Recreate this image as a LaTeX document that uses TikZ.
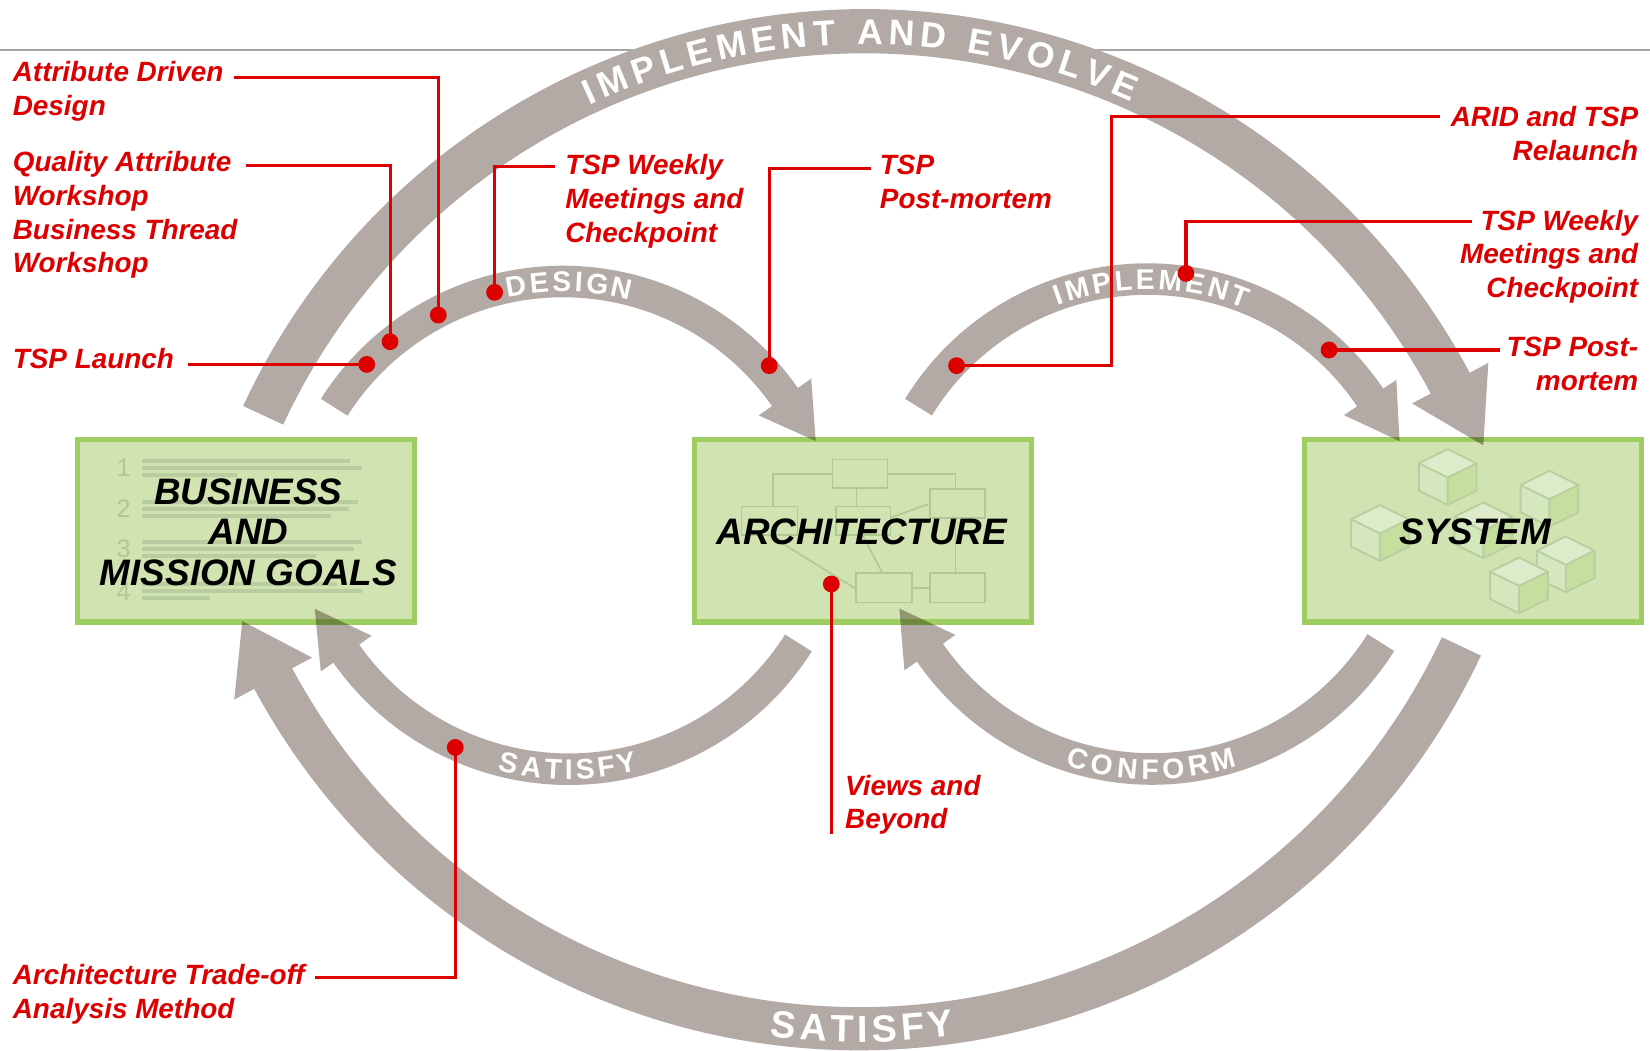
\documentclass[tikz,border=0pt]{standalone}
\usepackage{fontspec}
\setmainfont{Liberation Sans}
\usetikzlibrary{calc,decorations.text}
\definecolor{bandgrey}{RGB}{179,170,165}
\definecolor{boxfill}{RGB}{208,227,177}
\definecolor{boxline}{RGB}{158,205,97}
\definecolor{deco}{RGB}{176,201,148}
\definecolor{decoline}{RGB}{185,206,160}
\definecolor{calred}{RGB}{220,0,0}
\definecolor{rulegrey}{RGB}{165,165,165}
\definecolor{cubetop}{RGB}{222,235,203}
\definecolor{cubeleft}{RGB}{213,231,188}
\definecolor{cuberight}{RGB}{197,223,158}
\definecolor{cubeedge}{RGB}{184,207,160}

\newcommand\afbig{\fontsize{34}{34}\selectfont\bfseries}
\newcommand\afsat{\fontsize{36}{36}\selectfont\bfseries}
\newcommand\afmid{\fontsize{27}{27}\selectfont\bfseries}
\newcommand\calfont{\fontsize{26.5}{32}\selectfont\bfseries\itshape}
\newcommand\boxfont{\fontsize{35}{38.5}\selectfont\bfseries\itshape}

% cx, cy, r, w, a0 (tail), a1 (head base), half head width, head length, tip turn
\newcommand\bandarrow[9]{%
  \pgfmathsetmacro\bRo{#3+#4/2}\pgfmathsetmacro\bRi{#3-#4/2}%
  \pgfmathsetmacro\bHo{#3+#7}\pgfmathsetmacro\bHi{#3-#7}%
  \pgfmathsetmacro\bTa{#6+#9}%
  \coordinate (bc) at (#1,#2);
  \fill[bandstyle] (bc) ++(#5:\bRo pt) arc[start angle=#5,end angle=#6,radius=\bRo pt]
    -- ($(bc)+(#6:\bHo pt)$) -- ($(bc)+(#6:#3pt)+(\bTa:#8pt)$) -- ($(bc)+(#6:\bHi pt)$)
    -- ($(bc)+(#6:\bRi pt)$) arc[start angle=#6,end angle=#5,radius=\bRi pt] -- cycle;}

% cx, cy, r, a0, a1, font, raise, text
\newcommand\arctext[8]{%
  \path[decorate,decoration={text along path,text={|#6|#8},text align={fit to path},
     text color=white,raise=#7pt}]
     ($(#1,#2)+(#4:#3pt)$) arc[start angle=#4,end angle=#5,radius=#3pt];}

\newcommand\sketchcube[2]{%
  \begin{scope}[shift={(#1,#2)}]
    \fill[cubetop] (0,13.5) -- (27.4,0) -- (0,-13.5) -- (-27.4,0) -- cycle;
    \fill[cubeleft] (-27.4,0) -- (0,-13.5) -- (0,-39.5) -- (-27.4,-26) -- cycle;
    \fill[cuberight] (0,-13.5) -- (27.4,0) -- (27.4,-26) -- (0,-39.5) -- cycle;
    \draw[cubeedge,line width=1.8pt,line join=round]
      (0,13.5) -- (27.4,0) -- (27.4,-26) -- (0,-39.5) -- (-27.4,-26) -- (-27.4,0) -- cycle
      (-27.4,0) -- (0,-13.5) -- (27.4,0) (0,-13.5) -- (0,-39.5);
  \end{scope}}

\tikzset{
  boxstyle/.style={draw=boxline,fill=boxfill,line width=4.8pt,minimum width=320.2pt,
     minimum height=173.2pt,inner sep=0pt},
  boxlabel/.style={font=\boxfont,align=center,inner sep=0pt,text=black},
  numstyle/.style={font=\fontsize{24}{24}\selectfont,text=deco,inner sep=0pt},
  bizline/.style={draw=decoline,line width=3.8pt},
  archline/.style={draw=deco,line width=1.5pt},
  callout/.style={draw=calred,line width=3pt},
  cdot/.style={circle,fill=calred,inner sep=0pt,minimum size=16pt},
  ctext/.style={text=calred,font=\calfont,inner sep=0pt,align=left,anchor=base west},
  ctextr/.style={text=calred,font=\calfont,inner sep=0pt,align=right,anchor=base east},
  bandstyle/.style={fill=bandgrey}
}

\begin{document}
\begin{tikzpicture}[x=1pt,y=1pt]
\useasboundingbox (0,0) rectangle (1568,998);

% horizontal rule
\draw[rulegrey,line width=2pt] (0,950.5) -- (1568,950.5);

% white underlay of the big top arc (hides the rule)
\begin{scope}
  \tikzset{bandstyle/.style={fill=white}}
  \bandarrow{821.7}{338}{630.2}{42}{155.1}{28}{41}{67}{-90}
\end{scope}

% boxes
\node[boxstyle] (bizbox) at (234,493.5) {};
\node[boxstyle] (archbox) at (820,493.5) {};
\node[boxstyle] (sysbox) at (1400,493.5) {};

% business box decoration
\node[numstyle] (num1) at (117.5,553) {1};
\node[numstyle] (num2) at (117.5,514.5) {2};
\node[numstyle] (num3) at (117.5,476) {3};
\node[numstyle] (num4) at (117.5,435.4) {4};
\foreach \xe/\yy in {332.5/559.6,344/553,225/546.5,340/521,332/514.2,315/507.4,
                     344/483,336/476.2,300/469.4,320/443,344/436.8,200/430}
  \draw[bizline] (135,\yy) -- (\xe,\yy);

% architecture box decoration
\draw[archline] (791,534) rectangle (843.2,561.5);
\draw[archline] (883.8,506) rectangle (936,533.3);
\draw[archline] (704.8,489.6) rectangle (758,516.5);
\draw[archline] (794.2,489.6) rectangle (846.4,516.5);
\draw[archline] (813.2,425.3) rectangle (866.4,453.2);
\draw[archline] (883.8,425.3) rectangle (936,453.2);
\draw[archline] (791,547.3) -- (734.8,547.3) -- (734.8,516.5);
\draw[archline] (843.2,547.3) -- (908.2,547.3) -- (908.2,533.3);
\draw[archline] (814,534) -- (814,516.5);
\draw[archline] (846.4,506) -- (883.8,519.5);
\draw[archline] (730.5,489.6) -- (813.2,438.5);
\draw[archline] (819.5,489.6) -- (838.8,453.2);
\draw[archline] (908.2,506) -- (908.2,453.2);
\draw[archline] (866.4,439.4) -- (883.8,439.4);

% system box decoration
\sketchcube{1375.7}{557.7}
\sketchcube{1472.4}{537.1}
\sketchcube{1311.4}{504.5}
\sketchcube{1409.6}{507}
\sketchcube{1487.9}{474.7}
\sketchcube{1443.5}{454.7}

% box labels
\node[boxlabel] (bizlabel) at (236,492.5) {BUSINESS\\AND\\MISSION GOALS};
\node[boxlabel] (archlabel) at (819,493) {ARCHITECTURE};
\node[boxlabel] (syslabel) at (1402,493) {SYSTEM};

% grey band arrows
\begin{scope}[blend mode=multiply]
  \bandarrow{821.7}{338}{630.2}{42}{155.1}{28}{41}{67}{-90}
  \bandarrow{816.5}{653}{632.5}{41}{334.8}{208.3}{42}{62}{-90}
  \bandarrow{535}{473}{257.5}{30}{147.6}{35}{30.5}{51}{-90}
  \bandarrow{1090.4}{477.5}{255.3}{30}{148.45}{34}{30}{50}{-90}
  \bandarrow{540.5}{525.5}{258.5}{30}{327.6}{215.1}{29.5}{52}{-90}
  \bandarrow{1094.8}{524}{256.8}{30}{327.85}{214.7}{29.5}{51}{-90}
\end{scope}

% texts on the bands
\arctext{821.7}{338}{630.2}{115}{65.8}{\afbig}{-12.2}{IMPLEMENT AND EVOLVE}
\arctext{816.5}{653}{632.5}{262.4}{278.1}{\afsat}{-12.9}{SATISFY}
\arctext{535}{473}{257.5}{102.2}{75.2}{\afmid}{-9.7}{DESIGN}
\arctext{1090.4}{477.5}{255.3}{110.3}{67.9}{\afmid}{-9.7}{IMPLEMENT}
\arctext{540.5}{525.5}{258.5}{255.4}{284.3}{\afmid}{-9.7}{SATISFY}
\arctext{1094.8}{524}{256.8}{252}{287.8}{\afmid}{-9.7}{CONFORM}

% callout texts (anchor = baseline of the last line)
\node[ctext] (tADD) at (12,888.4) {Attribute Driven\\Design};
\node[ctext] (tQAW) at (12,738.8) {Quality Attribute\\Workshop\\Business Thread\\Workshop};
\node[ctext] (tLaunch) at (12,648) {TSP Launch};
\node[ctext] (tWeekA) at (537,767.7) {TSP Weekly\\Meetings and\\Checkpoint};
\node[ctext] (tPostA) at (836,799.7) {TSP\\Post-mortem};
\node[ctextr] (tARID) at (1557,845.6) {ARID and TSP\\Relaunch};
\node[ctextr] (tWeekB) at (1557,715.4) {TSP Weekly\\Meetings and\\Checkpoint};
\node[ctextr] (tPostB) at (1557,627) {TSP Post-\\mortem};
\node[ctext] (tViews) at (803,210.5) {Views and\\Beyond};
\node[ctext] (tATAM) at (12,30.4) {Architecture Trade-off\\Analysis Method};

% callout start points and dots
\coordinate (sADD) at (222,924.5);
\coordinate (sQAW) at (233.5,840.5);
\coordinate (sLaunch) at (178.5,651.7);
\coordinate (sWeekA) at (527.5,839.6);
\coordinate (sPostA) at (828,838);
\coordinate (sARID) at (1368,887.1);
\coordinate (bARID) at (1056.6,650.5);
\coordinate (sWeekB) at (1399,787.3);
\coordinate (sPostB) at (1425.5,665.4);
\coordinate (sViews) at (790,205.6);
\coordinate (sATAM) at (299,69.3);

\node[cdot] (dADD) at (416.5,698.6) {};
\node[cdot] (dQAW) at (370.7,673.3) {};
\node[cdot] (dLaunch) at (348.5,651.7) {};
\node[cdot] (dWeekA) at (470,720.2) {};
\node[cdot] (dPostA) at (731,650.5) {};
\node[cdot] (dARID) at (909,650.5) {};
\node[cdot] (dWeekB) at (1127,738.2) {};
\node[cdot] (dPostB) at (1263,665.4) {};
\node[cdot] (dViews) at (790,443) {};
\node[cdot] (dATAM) at (432.6,287.7) {};

\draw[callout] (sADD) -| (dADD.center);
\draw[callout] (sQAW) -| (dQAW.center);
\draw[callout] (sLaunch) -- (dLaunch.center);
\draw[callout] (sWeekA) -| (dWeekA.center);
\draw[callout] (sPostA) -| (dPostA.center);
\draw[callout] (sARID) -| (bARID) -- (dARID.center);
\draw[callout] (sWeekB) -| (dWeekB.center);
\draw[callout] (sPostB) -- (dPostB.center);
\draw[callout] (sViews) -- (dViews.center);
\draw[callout] (sATAM) -| (dATAM.center);
\end{tikzpicture}
\end{document}
